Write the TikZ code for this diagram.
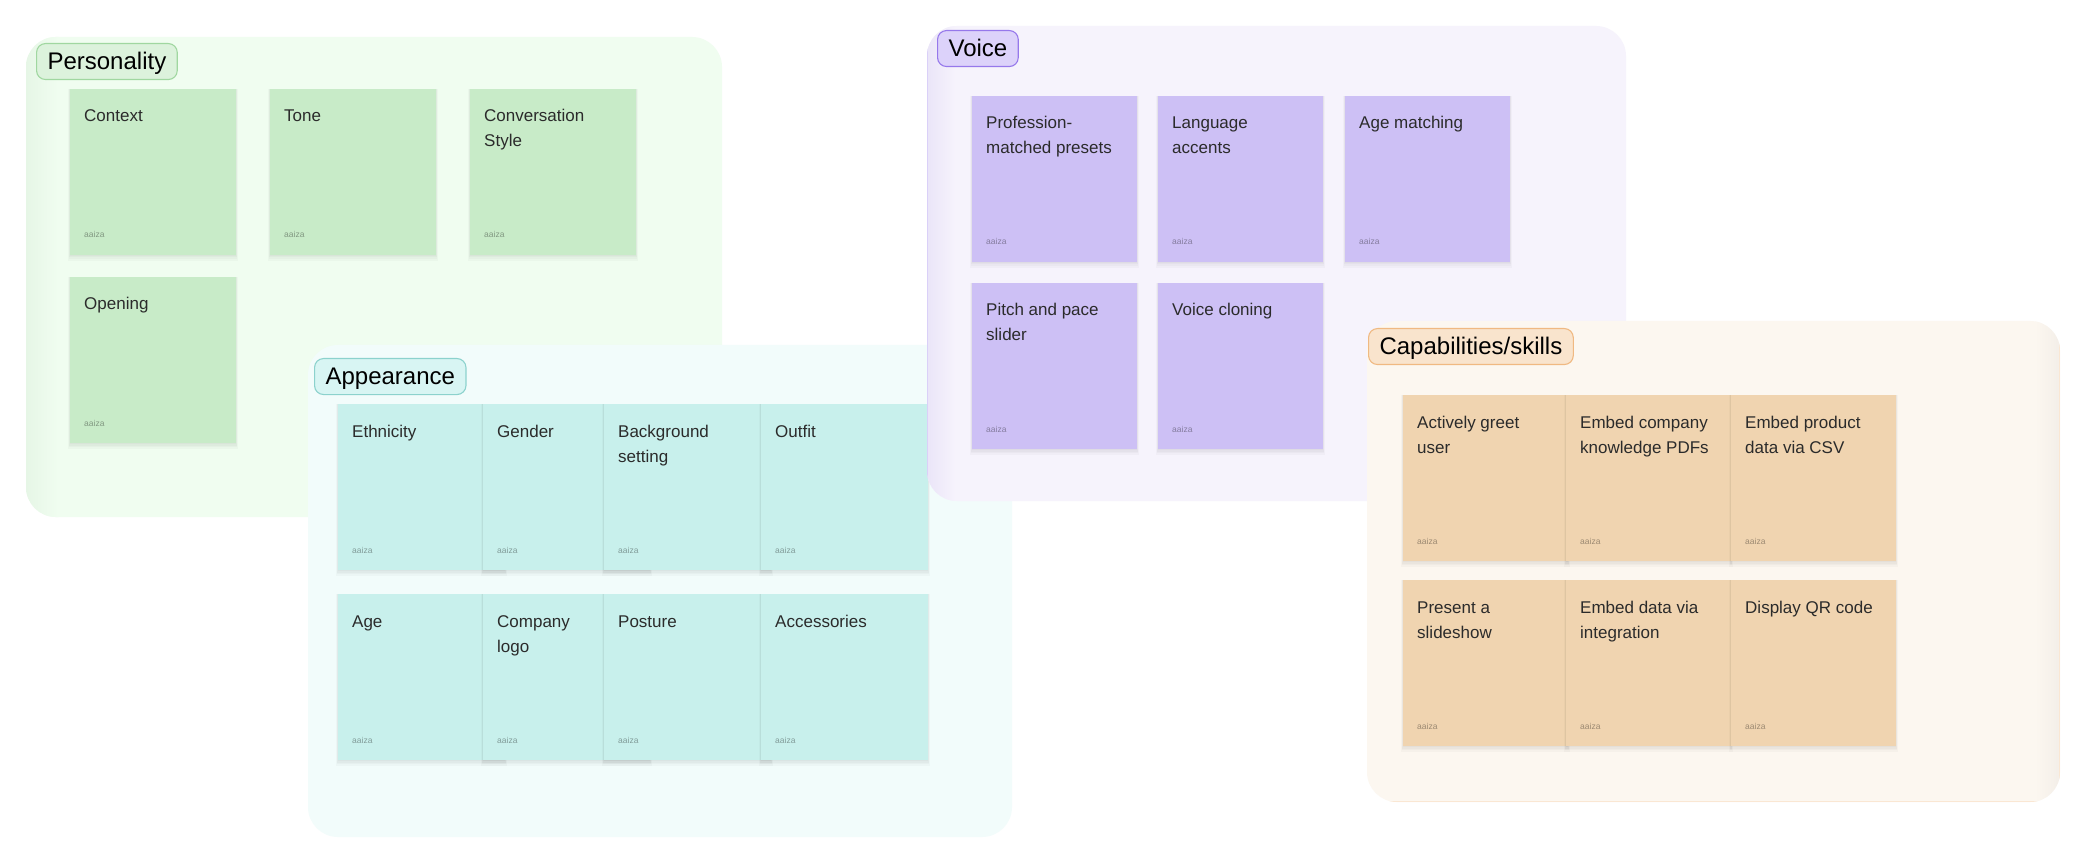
\documentclass[tikz,border=0pt]{standalone}
\usepackage{fontspec}
\setmainfont{Liberation Sans}
\definecolor{pgpanel}{HTML}{F0FDF0}\definecolor{pgnote}{HTML}{C8EBC8}\definecolor{pglab}{HTML}{DCF2DC}\definecolor{pgline}{HTML}{A0D7A0}\definecolor{pgedge}{HTML}{E6F6E6}
\definecolor{appanel}{HTML}{F2FCFB}\definecolor{apnote}{HTML}{C8F0EC}\definecolor{aplab}{HTML}{D8F5F3}\definecolor{apline}{HTML}{8CD2CD}
\definecolor{vopanel}{HTML}{F6F3FC}\definecolor{vonote}{HTML}{CDC0F5}\definecolor{volab}{HTML}{DCD2FA}\definecolor{voline}{HTML}{9678EB}\definecolor{voedge}{HTML}{EAE5F8}
\definecolor{capanel}{HTML}{FCF7F0}\definecolor{canote}{HTML}{F0D4B0}\definecolor{calab}{HTML}{F9E4CD}\definecolor{caline}{HTML}{F0B982}\definecolor{caedge}{HTML}{F3EEE8}
\definecolor{notetxt}{HTML}{2B2B2B}
\tikzset{
  panel/.style={draw=none, rounded corners=30pt, inner sep=0pt, outer sep=0pt, anchor=north west},
  grouplabel/.style={anchor=north west, rounded corners=9pt, line width=1.1pt, minimum height=36pt,
     inner xsep=11pt, inner ysep=0pt, text height=19pt, text depth=4pt, font=\fontsize{24}{28}\selectfont, text=black},
  note/.style={draw=none, inner sep=0pt, outer sep=0pt, minimum height=166pt},
  noteshadow/.style={fill=black, opacity=0.025},
  notetext/.style={inner sep=0pt, font=\fontsize{17}{25}\selectfont, text=notetxt},
  author/.style={inner sep=0pt, font=\fontsize{8.5}{10}\selectfont, text=black, text opacity=0.35},
}
\newcommand\stickynote[7]{%
  \fill[noteshadow] (#2-2,#3) rectangle (#2+#4+2,#3+166+6);
  \fill[noteshadow] (#2-1.2,#3) rectangle (#2+#4+1.2,#3+166+4);
  \fill[noteshadow] (#2-0.6,#3) rectangle (#2+#4+0.6,#3+166+2.5);
  \fill[noteshadow] (#2,#3) rectangle (#2+#4,#3+166+1.2);
  \node[note, fill=#5, minimum width=#4pt, anchor=north west] (#1) at (#2,#3) {};
  \node[notetext, anchor=base west] (#1-a) at ([xshift=14pt,yshift=-33pt]#1.north west) {#6};
  \if\relax\detokenize{#7}\relax\else
  \node[notetext, anchor=base west] (#1-b) at ([xshift=14pt,yshift=-58pt]#1.north west) {#7};
  \fi
  \node[author, anchor=base west] (#1-u) at ([xshift=14pt,yshift=17pt]#1.south west) {aaiza};
}
\begin{document}
\begin{tikzpicture}[x=1pt,y=-1pt]
\useasboundingbox (0,0) rectangle (2090,858);
\fill[white] (0,0) rectangle (2090,858);

% ---------------- Personality
\node[panel, fill=pgpanel, minimum width=696pt, minimum height=480pt] (personality) at (26,37) {};
\begin{scope}
  \clip[rounded corners=30pt] (26,37) rectangle (722,517);
  \shade[left color=pgedge, right color=pgpanel] (26,37) rectangle (58,517);
\end{scope}
\node[grouplabel, fill=pglab, draw=pgline] (personality-l) at (36,43) {Personality};
\stickynote{context}{70}{89}{166}{pgnote}{Context}{}
\stickynote{tone}{270}{89}{166}{pgnote}{Tone}{}
\stickynote{convstyle}{470}{89}{166}{pgnote}{Conversation}{Style}
\stickynote{opening}{70}{277}{166}{pgnote}{Opening}{}

% ---------------- Appearance
\node[panel, fill=appanel, minimum width=704pt, minimum height=492pt] (appearance) at (308,345) {};
\node[grouplabel, fill=aplab, draw=apline] (appearance-l) at (314,358) {Appearance};
\stickynote{ethnicity}{338}{404}{167}{apnote}{Ethnicity}{}
\stickynote{gender}{483}{404}{167}{apnote}{Gender}{}
\stickynote{background}{604}{404}{167}{apnote}{Background}{setting}
\stickynote{outfit}{761}{404}{167}{apnote}{Outfit}{}
\stickynote{age}{338}{594}{167}{apnote}{Age}{}
\stickynote{logo}{483}{594}{167}{apnote}{Company}{logo}
\stickynote{posture}{604}{594}{167}{apnote}{Posture}{}
\stickynote{accessories}{761}{594}{167}{apnote}{Accessories}{}

% ---------------- Voice
\node[panel, fill=vopanel, minimum width=699pt, minimum height=475pt] (voice) at (927,26) {};
\begin{scope}
  \clip[rounded corners=30pt] (927,26) rectangle (1626,501);
  \shade[left color=voedge, right color=vopanel] (927,26) rectangle (955,501);
  \draw[voline!35, line width=1pt] (927.5,26) -- (927.5,501);
\end{scope}
\node[grouplabel, fill=volab, draw=voline] (voice-l) at (937,30) {Voice};
\stickynote{profession}{972}{96}{165}{vonote}{Profession-}{matched presets}
\stickynote{accents}{1158}{96}{165}{vonote}{Language}{accents}
\stickynote{agematch}{1345}{96}{165}{vonote}{Age matching}{}
\stickynote{pitch}{972}{283}{165}{vonote}{Pitch and pace}{slider}
\stickynote{cloning}{1158}{283}{165}{vonote}{Voice cloning}{}

% ---------------- Capabilities/skills
\node[panel, fill=capanel, minimum width=693pt, minimum height=481pt] (capabilities) at (1367,321) {};
\begin{scope}
  \clip[rounded corners=30pt] (1367,321) rectangle (2060,802);
  \shade[left color=capanel, right color=caedge] (2035,321) rectangle (2060,802);
  \draw[caline!35, line width=1.2pt] (1367,801.5) -- (2060,801.5);
  \draw[caline!35, line width=1.2pt] (2059.5,321) -- (2059.5,802);
\end{scope}
\node[grouplabel, fill=calab, draw=caline] (capabilities-l) at (1368,328) {Capabilities/skills};
\stickynote{greet}{1403}{395}{165}{canote}{Actively greet}{user}
\stickynote{pdfs}{1566}{395}{165}{canote}{Embed company}{knowledge PDFs}
\stickynote{csv}{1731}{395}{165}{canote}{Embed product}{data via CSV}
\stickynote{slideshow}{1403}{580}{165}{canote}{Present a}{slideshow}
\stickynote{integration}{1566}{580}{165}{canote}{Embed data via}{integration}
\stickynote{qrcode}{1731}{580}{165}{canote}{Display QR code}{}
\end{tikzpicture}
\end{document}
